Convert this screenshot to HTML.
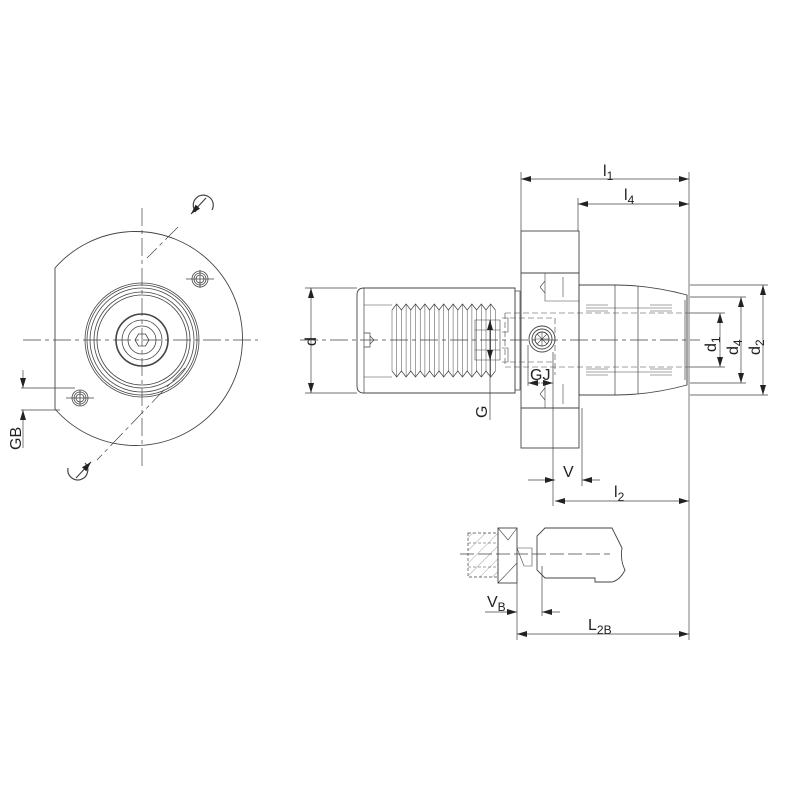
<!DOCTYPE html>
<html><head><meta charset="utf-8"><style>
html,body{margin:0;padding:0;background:#fff}
svg{display:block}
text{font-family:"Liberation Sans",sans-serif;fill:#222}
</style></head><body>
<svg width="800" height="800" viewBox="0 0 800 800" xmlns="http://www.w3.org/2000/svg">
<defs>
<marker id="a" viewBox="0 0 10 6" refX="10" refY="3" markerWidth="10" markerHeight="6" orient="auto-start-reverse" markerUnits="userSpaceOnUse"><path d="M0,0 L10,3 L0,6z" fill="#222"/></marker>
<pattern id="h" width="9" height="9" patternUnits="userSpaceOnUse" patternTransform="rotate(45)"><line x1="0" y1="0" x2="0" y2="9" stroke="#666" stroke-width="0.6"/></pattern>
</defs>
<g fill="none" stroke="#444" stroke-width="0.9">
<!-- LEFT VIEW -->
<path d="M55,268 A107,107 0 1 1 55,409 Z" fill="#fff"/>
<g stroke-width="0.8">
<circle cx="142" cy="340" r="57"/><circle cx="142" cy="340" r="55"/><circle cx="142" cy="340" r="52"/>
<circle cx="142" cy="340" r="48"/><circle cx="142" cy="340" r="45"/>
<circle cx="142" cy="340" r="20"/><circle cx="142" cy="340" r="14"/>
</g>
<circle cx="142" cy="340" r="26" stroke-width="1.6"/>
<path d="M135,340 l3.5,-6 h7 l3.5,6 l-3.5,6 h-7z" stroke-width="0.8"/>
<g stroke-width="0.8">
<circle cx="200" cy="279" r="8"/><circle cx="200" cy="279" r="6"/><circle cx="200" cy="279" r="4"/>
<circle cx="80" cy="398" r="8"/><circle cx="80" cy="398" r="6"/><circle cx="80" cy="398" r="4"/>
<path d="M186,279h28M200,270v18M66,398h28M80,390v16"/>
</g>
<g stroke-dasharray="18,4,4,4" stroke-width="0.7">
<path d="M23,340H258M142,208V470"/>
<path d="M178,227L147,258M185,368L97,460"/>
</g>
<path d="M196,212 A10,10 0 1 1 212,210" stroke-width="1.2"/>
<path d="M206,198 L191,214" stroke-width="1.2" marker-end="url(#a)"/>
<path d="M85,463 A10,10 0 1 1 68,468" stroke-width="1.2"/>
<path d="M76,478 L91,462" stroke-width="1.2" marker-end="url(#a)"/>
<path d="M21,388H75M21,410H60" stroke-width="0.7"/>
<path d="M23,370V388" marker-end="url(#a)" stroke-width="0.7"/>
<path d="M23,448V410" marker-end="url(#a)" stroke-width="0.7"/>

<!-- RIGHT VIEW -->
<path d="M364,288H515V393H364 Q357,393 357,386V295 Q357,288 364,288Z"/>
<path d="M364,288V393M515,291H520V390H515M515,291V390" stroke-width="0.7"/>
<path d="M364,305H392M364,377H392" stroke-width="0.6"/>
<path d="M364,333h6v14h-6M370,336l4,4l-4,4" stroke-width="0.7"/>
<polyline stroke-width="0.7" points="392,310 396.7,304 401.4,310 406.1,304 410.8,310 415.5,304 420.2,310 424.9,304 429.6,310 434.3,304 439,310 443.7,304 448.4,310 453.1,304 457.8,310 462.5,304 467.2,310 471.9,304 476.6,310 481.3,304 486,310 490.7,304 495.4,310"/>
<polyline stroke-width="0.7" points="392,371 396.7,377 401.4,371 406.1,377 410.8,371 415.5,377 420.2,371 424.9,377 429.6,371 434.3,377 439,371 443.7,377 448.4,371 453.1,377 457.8,371 462.5,377 467.2,371 471.9,377 476.6,371 481.3,377 486,371 490.7,377 495.4,371"/>
<path stroke-width="0.5" d="M392,310V371M396.7,304V377M401.4,310V371M406.1,304V377M410.8,310V371M415.5,304V377M420.2,310V371M424.9,304V377M429.6,310V371M434.3,304V377M439,310V371M443.7,304V377M448.4,310V371M453.1,304V377M457.8,310V371M462.5,304V377M467.2,310V371M471.9,304V377M476.6,310V371M481.3,304V377M486,310V371M490.7,304V377M495.4,310V371"/>
<path d="M475,320h25v40h-25zM475,330h25M475,350h25M502,318h6v14h-6M502,348h6v14h-6" stroke-width="0.6"/>
<rect x="521" y="231" width="58" height="217" fill="#fff"/>
<path d="M521,273H579M521,408H579"/>
<path d="M545,273v28h34M545,380v28h34M540,287l5,-6M540,287l5,6M540,394l5,-6M540,394l5,6M563,277v20M563,384v20" stroke-width="0.6"/>
<g stroke-dasharray="6,3" stroke-width="0.6">
<path d="M505,313H690M505,367H690M505,313V367M510,318H555V375M510,362H555"/>
</g>
<circle cx="542" cy="339" r="13"/><circle cx="542" cy="339" r="10"/><circle cx="542" cy="339" r="7"/>
<path d="M535,339h14M542,332v14M537,334l10,10M547,334l-10,10" stroke-width="0.6"/>
<path d="M579,285H615 Q650,285 687,295V385 Q650,395 615,395H579Z"/>
<path d="M615,285V395M638,286V394M687,295V385M685,300V380" stroke-width="0.7"/>
<path d="M586,308H672M586,372H672M586,305h22M586,311h22M650,305h22M650,311h22M586,369h22M586,375h22M650,369h22M650,375h22" stroke-width="0.6"/>
<path d="M300,340H700" stroke-dasharray="18,4,4,4" stroke-width="0.7"/>
<g stroke-width="0.7">
<path d="M521,231V172M578,231V198M689,172V640"/>
<path d="M521,179H689" marker-start="url(#a)" marker-end="url(#a)"/>
<path d="M578,204H689" marker-start="url(#a)" marker-end="url(#a)"/>
<path d="M690,285H768M690,297H746M690,313H725M690,367H725M690,383H746M690,395H768"/>
<path d="M720,313V367" marker-start="url(#a)" marker-end="url(#a)"/>
<path d="M741,297V383" marker-start="url(#a)" marker-end="url(#a)"/>
<path d="M763,285V395" marker-start="url(#a)" marker-end="url(#a)"/>
<path d="M305,288H357M305,393H357"/>
<path d="M311,288V393" marker-start="url(#a)" marker-end="url(#a)"/>
<path d="M490,320V420"/>
<path d="M490,340V320" marker-end="url(#a)"/><path d="M490,340V360" marker-end="url(#a)"/>
<path d="M528,345V386M553,352V506M582,408V486"/>
<path d="M540,383H528" marker-end="url(#a)"/><path d="M541,383H553" marker-end="url(#a)"/>
<path d="M528,480H555" marker-end="url(#a)"/><path d="M600,480H582" marker-end="url(#a)"/>
<path d="M555,501H689" marker-start="url(#a)" marker-end="url(#a)"/>
</g>

<!-- BOTTOM VIEW -->
<path d="M545,528H612 Q618,540 622,548 Q620,560 625,570 Q620,580 612,582H595V578H545L537,570V536Z"/>
<rect x="468" y="533" width="30" height="44" fill="url(#h)" stroke-dasharray="3,2" stroke-width="0.7"/>
<path d="M468,543h30M468,567h30" stroke-dasharray="3,2" stroke-width="0.6"/>
<rect x="498" y="528" width="19" height="55"/>
<path d="M498,528l10,12l9,-12M498,583l19,-20M517,548h15v18h-8z" stroke-width="0.6"/>
<path d="M460,554H610" stroke-dasharray="14,4" stroke-width="0.7"/>
<g stroke-width="0.7">
<path d="M517,583V640M542,566V616"/>
<path d="M485,612H517" marker-end="url(#a)"/><path d="M560,612H542" marker-end="url(#a)"/>
<path d="M517,634H689" marker-start="url(#a)" marker-end="url(#a)"/>
</g>
</g>
<g font-size="16">
<text x="603" y="176">l<tspan font-size="12" dy="4">1</tspan></text>
<text x="624" y="200">l<tspan font-size="12" dy="4">4</tspan></text>
<text x="614" y="497">l<tspan font-size="12" dy="4">2</tspan></text>
<text x="563" y="477">V</text>
<text x="530" y="380">GJ</text>
<text transform="translate(316,346) rotate(-90)">d</text>
<text transform="translate(716,352) rotate(-90)">d<tspan font-size="12" dy="4">1</tspan></text>
<text transform="translate(738,355) rotate(-90)">d<tspan font-size="12" dy="4">4</tspan></text>
<text transform="translate(760,355) rotate(-90)">d<tspan font-size="12" dy="4">2</tspan></text>
<text transform="translate(487,418) rotate(-90)">G</text>
<text transform="translate(21,450) rotate(-90)">GB</text>
<text x="487" y="607">V<tspan font-size="12" dy="4">B</tspan></text>
<text x="588" y="630">L<tspan font-size="12" dy="4">2B</tspan></text>
</g>
</svg>
</body></html>
